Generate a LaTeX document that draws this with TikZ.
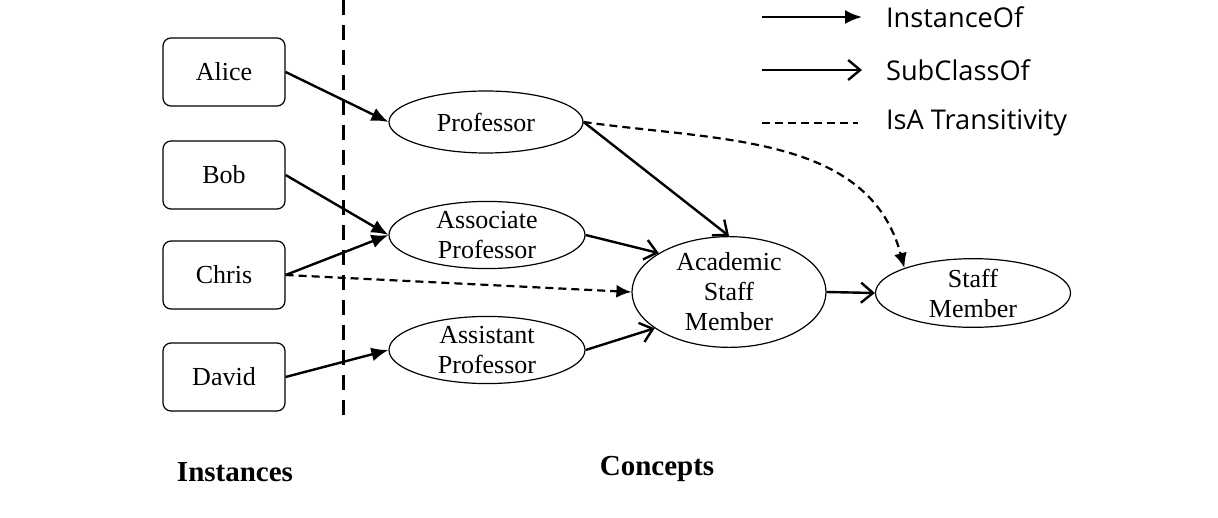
\documentclass[tikz,border=0pt]{standalone}
\usepackage{fontspec}
\setmainfont{Liberation Serif}
\newfontfamily\legendfont{Open Sans}
\usetikzlibrary{arrows.meta,shapes.geometric}
\tikzset{
  inst/.style={draw,rounded corners=4pt,minimum width=61pt,minimum height=34pt,inner sep=0pt,line width=0.6pt},
  concept/.style={draw,ellipse,minimum width=97pt,minimum height=31pt,inner sep=0pt,align=center,line width=0.6pt},
  instof/.style={line width=1.2pt,-{Latex[length=8.5pt,width=7pt]}},
  subof/.style={line width=1.2pt,-{Straight Barb[length=6pt,width=10pt]}},
  isa/.style={line width=1.1pt,dash pattern=on 4pt off 2.5pt,-{Latex[length=7.5pt,width=6.5pt]}},
}
\begin{document}
\begin{tikzpicture}[x=0.5pt,y=-0.5pt,font=\fontsize{13}{15}\selectfont]
  \useasboundingbox (0,0) rectangle (1218,518);
  % instances
  \foreach \name/\y in {Alice/72,Bob/175,Chris/275,David/377}
    \node[inst] (\name) at (224,\y) {\name};
  \draw[line width=1.5pt,dash pattern=on 7.5pt off 5pt] (343,0) -- (343,418);
  % concepts
  \node[concept] (prof) at (486,122) {Professor};
  \node[concept,minimum height=33pt,minimum width=98pt] (assoc) at (487,235) {Associate\\Professor};
  \node[concept,minimum height=33pt,minimum width=98pt] (assist) at (487,350) {Assistant\\Professor};
  \node[concept,minimum height=47.5pt] (acad) at (729,292) {Academic\\Staff\\Member};
  \node[concept,minimum height=31.5pt,minimum width=97.5pt] (staff) at (973,293) {Staff\\Member};
  % edges
  \draw[instof] (Alice.east) -- (prof.west);
  \draw[instof] (Bob.east) -- (assoc.west);
  \draw[instof] (Chris.east) -- (assoc.west);
  \draw[instof] (David.east) -- (assist.west);
  \draw[isa] (Chris.east) -- (acad.west);
  \draw[subof] (prof.east) -- (acad.north);
  \draw[subof] (assoc.east) -- (acad.151);
  \draw[subof] (assist.east) -- (acad.206);
  \draw[subof] (acad.east) -- (staff.west);
  \draw[isa] (prof.east) to[out=-8,in=105] (staff.160);
  % legend
  \coordinate (l1) at (762,17);
  \coordinate (r1) at (862,17);
  \coordinate (l2) at (762,70);
  \coordinate (r2) at (862,70);
  \coordinate (l3) at (762,123);
  \coordinate (r3) at (858,123);
  \draw[instof] (l1) -- (r1);
  \draw[subof] (l2) -- (r2);
  \draw[line width=1.1pt,dash pattern=on 4pt off 2.5pt] (l3) -- (r3);
  \node[anchor=west,font=\legendfont\fontsize{13.6}{15}\selectfont] (t1) at (879,17) {InstanceOf};
  \node[anchor=west,font=\legendfont\fontsize{13.6}{15}\selectfont] (t2) at (879,70) {SubClassOf};
  \node[anchor=west,font=\legendfont\fontsize{13.6}{15}\selectfont] (t3) at (879,123) {IsA Transitivity};
  % captions
  \node[font=\fontsize{14.5}{17}\selectfont\bfseries] (capI) at (235,472) {Instances};
  \node[font=\fontsize{14.5}{17}\selectfont\bfseries] (capC) at (657,469) {Concepts};
\end{tikzpicture}
\end{document}
